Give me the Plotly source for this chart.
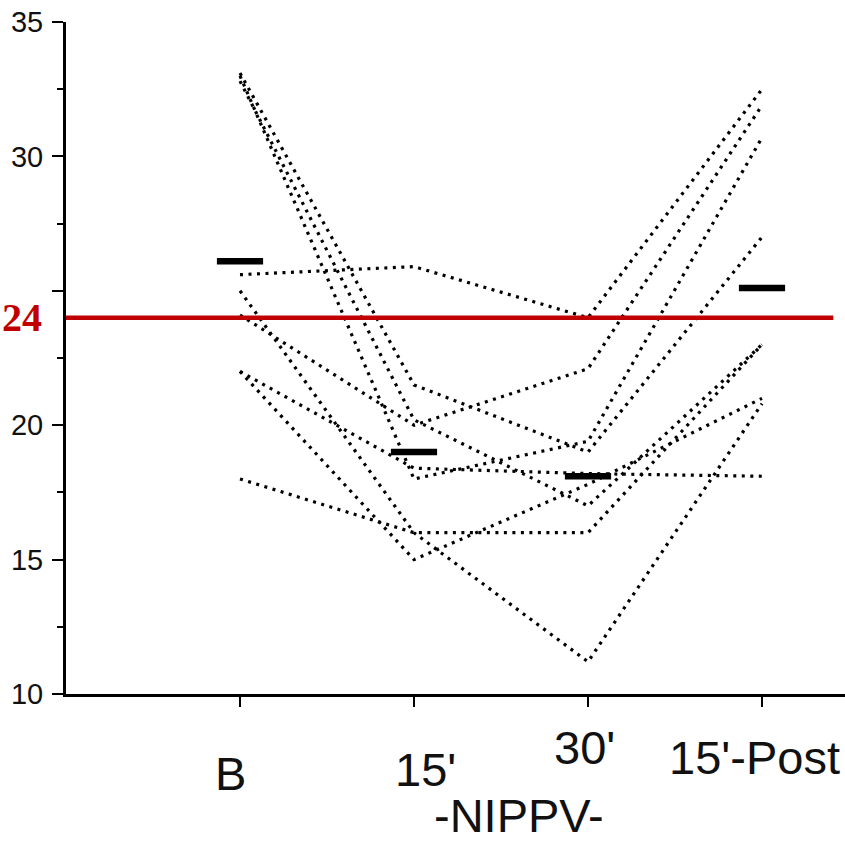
import plotly.graph_objects as go

# Measurement time points (x positions 1..4 on a numeric axis)
time_points = ["B", "15'", "30'", "15'-Post"]
x_pos = [1, 2, 3, 4]

# Individual patient values at each time point
patient_01 = [25.6, 25.9, 24.0, 32.5]
patient_02 = [33.1, 21.5, 19.0, 27.0]
patient_03 = [32.8, 20.2, 17.0, 23.0]
patient_04 = [24.1, 20.0, 22.1, 31.9]
patient_05 = [33.0, 18.0, 19.4, 30.7]
patient_06 = [22.0, 18.4, 18.2, 18.1]
patient_07 = [22.0, 15.0, 17.8, 21.0]
patient_08 = [25.0, 16.0, 11.2, 20.8]
patient_09 = [18.0, 16.0, 16.0, 23.0]
patients = [patient_01, patient_02, patient_03, patient_04, patient_05,
            patient_06, patient_07, patient_08, patient_09]

# Group means shown as short thick bars
group_means = [26.1, 19.0, 18.1, 25.1]

# Reference level
reference_level = 24

# Y axis ticks
y_tick_vals = [10, 15, 20, 25, 30, 35]
y_tick_text = ["10", "15", "20", "", "30", "35"]
y_minor_vals = [12.5, 17.5, 22.5, 27.5, 32.5]

fig = go.Figure()

for vals in patients:
    fig.add_trace(go.Scatter(
        x=x_pos, y=vals, mode="lines",
        line=dict(color="black", width=3.2, dash="3px,5.5px"),
        hoverinfo="skip",
    ))

fig.add_trace(go.Scatter(
    x=x_pos, y=group_means, mode="markers",
    marker=dict(symbol="line-ew", size=33, color="black",
                line=dict(width=6.5, color="black")),
    hoverinfo="skip",
))

# Red reference line across the plot
fig.add_shape(type="line", xref="paper", yref="y",
              x0=0, x1=0.985, y0=reference_level, y1=reference_level,
              line=dict(color="#C00000", width=4.5), layer="above")

fig.add_annotation(xref="paper", yref="y", x=-66 / 779, y=reference_level,
                   xanchor="left", yanchor="middle", showarrow=False,
                   text="<b>24</b>",
                   font=dict(family="Liberation Serif, Times New Roman, serif",
                             size=40, color="#C00000"))

# Category labels under the x axis
label_font = dict(family="Liberation Sans, Arial, sans-serif", size=47, color="#111")
label_shifts = [(-10, -79), (11, -75), (-4, -53), (-8, -63)]
for xp, name, (dx, dy) in zip(x_pos, time_points, label_shifts):
    fig.add_annotation(xref="x", yref="paper", x=xp, y=0, xshift=dx, yshift=dy,
                       xanchor="center", yanchor="middle", showarrow=False,
                       text=name, font=label_font)

fig.add_annotation(xref="x", yref="paper", x=2.5, y=0, xshift=18, yshift=-121,
                   xanchor="center", yanchor="middle", showarrow=False,
                   text="-NIPPV-", font=label_font)

fig.update_layout(
    width=845, height=843,
    margin=dict(l=66, r=0, t=22, b=149),
    paper_bgcolor="white", plot_bgcolor="white",
    showlegend=False,
    xaxis=dict(range=[0, 4.477], tickmode="array", tickvals=x_pos,
               ticktext=["", "", "", ""], ticks="outside", ticklen=10,
               tickwidth=2.2, tickcolor="black", showline=True,
               linecolor="black", linewidth=3, showgrid=False,
               zeroline=False),
    yaxis=dict(range=[10, 35], tickmode="array", tickvals=y_tick_vals,
               ticktext=y_tick_text, ticks="outside", ticklen=11,
               tickwidth=2.2, tickcolor="black", showline=True,
               linecolor="black", linewidth=3, showgrid=False,
               zeroline=False, ticklabelstandoff=3,
               tickfont=dict(family="Liberation Sans, Arial, sans-serif",
                             size=29, color="#111"),
               minor=dict(tickmode="array", tickvals=y_minor_vals,
                          ticks="outside", ticklen=6, tickwidth=2.2,
                          tickcolor="black", showgrid=False)),
)

fig.write_html("out.html")
